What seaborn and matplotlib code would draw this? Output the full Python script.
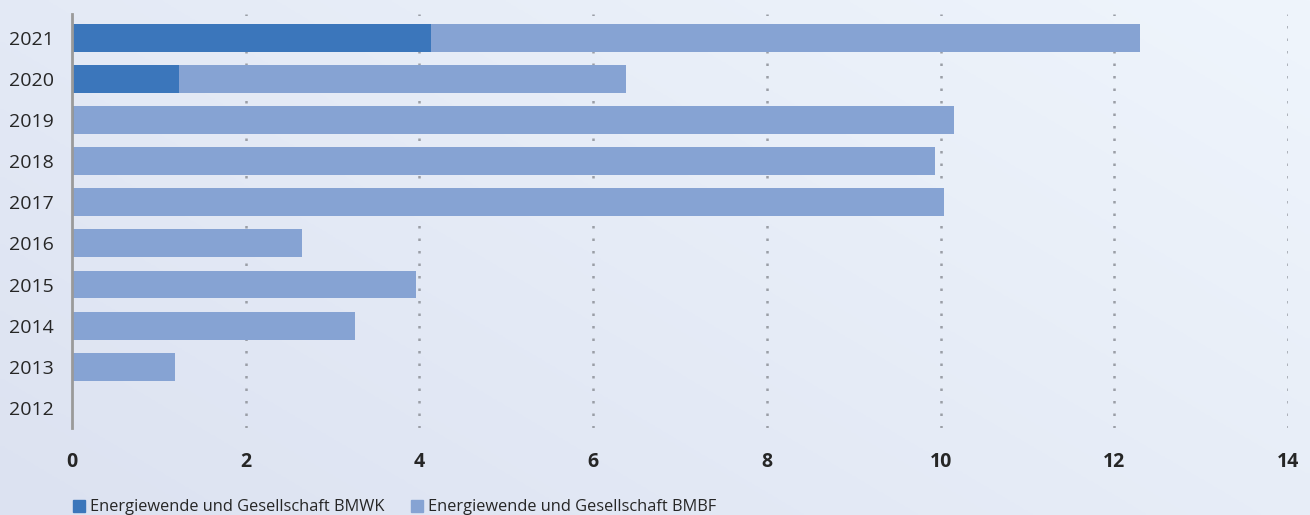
import numpy as np
import pandas as pd
import seaborn as sns
import matplotlib.pyplot as plt
from matplotlib.patches import Patch

# Daten (Mio. Euro)
jahre = ['2021', '2020', '2019', '2018', '2017', '2016', '2015', '2014', '2013', '2012']
bmwk = [4.13, 1.23, 0.02, 0, 0, 0, 0, 0, 0, 0]
bmbf = [8.17, 5.15, 10.13, 9.94, 10.04, 2.65, 3.96, 3.26, 1.19, 0]
x_ticks = [0, 2, 4, 6, 8, 10, 12, 14]

farbe_bmwk = '#3b76bb'
farbe_bmbf = '#86a3d3'

df = pd.DataFrame({'Jahr': jahre, 'BMWK': bmwk, 'BMBF': bmbf})
df['Gesamt'] = df['BMWK'] + df['BMBF']

sns.set_theme(style='white')
plt.rcParams['font.family'] = ['Open Sans', 'DejaVu Sans']

fig = plt.figure(figsize=(13.1, 5.15), dpi=100)

# Hintergrund mit Verlauf
bg = fig.add_axes([0, 0, 1, 1], zorder=-10)
xx, yy = np.meshgrid(np.linspace(0, 1, 200), np.linspace(0, 1, 200))
t = (xx * 0.6 + (1 - yy) * 0.4)
c0 = np.array([0xdc, 0xe2, 0xf1]) / 255
c1 = np.array([0xef, 0xf5, 0xfc]) / 255
img = c0[None, None, :] * (1 - t[..., None]) + c1[None, None, :] * t[..., None]
bg.imshow(img, extent=[0, 1, 0, 1], aspect='auto', origin='upper')
bg.axis('off')

ax = fig.add_axes([72 / 1310, 87 / 515, 1216 / 1310, 414 / 515])
ax.patch.set_alpha(0)

sns.barplot(data=df, y='Jahr', x='Gesamt', order=jahre, color=farbe_bmbf,
            width=0.68, saturation=1, orient='h', linewidth=0, ax=ax, zorder=3)
sns.barplot(data=df, y='Jahr', x='BMWK', order=jahre, color=farbe_bmwk,
            width=0.68, saturation=1, orient='h', linewidth=0, ax=ax, zorder=4)

ax.set_xlim(0, 14)
ax.set_ylim(9.49, -0.58)
ax.set_xticks(x_ticks)
ax.set_xticklabels([str(v) for v in x_ticks], fontweight='bold', fontsize=14)
ax.tick_params(axis='x', length=0, pad=17)
ax.tick_params(axis='y', length=0, pad=13, labelsize=14)
ax.set_xlabel('')
ax.set_ylabel('')

for x in x_ticks[1:]:
    ax.axvline(x, color='#9a9ea6', linestyle=(0, (1, 4)), linewidth=1.8, zorder=1)

for s in ['top', 'right', 'bottom']:
    ax.spines[s].set_visible(False)
ax.spines['left'].set_color('#9a9a9a')
ax.spines['left'].set_linewidth(2)
ax.spines['left'].set_zorder(5)

handles = [Patch(color=farbe_bmwk, label='Energiewende und Gesellschaft BMWK'),
           Patch(color=farbe_bmbf, label='Energiewende und Gesellschaft BMBF')]
fig.legend(handles=handles, loc='lower left', bbox_to_anchor=(58 / 1310, -15 / 515),
           ncol=2, frameon=False, fontsize=11.8, handlelength=0.75, handleheight=0.75,
           handletextpad=0.3, columnspacing=1.6)

fig.savefig('out.png', dpi=100)
